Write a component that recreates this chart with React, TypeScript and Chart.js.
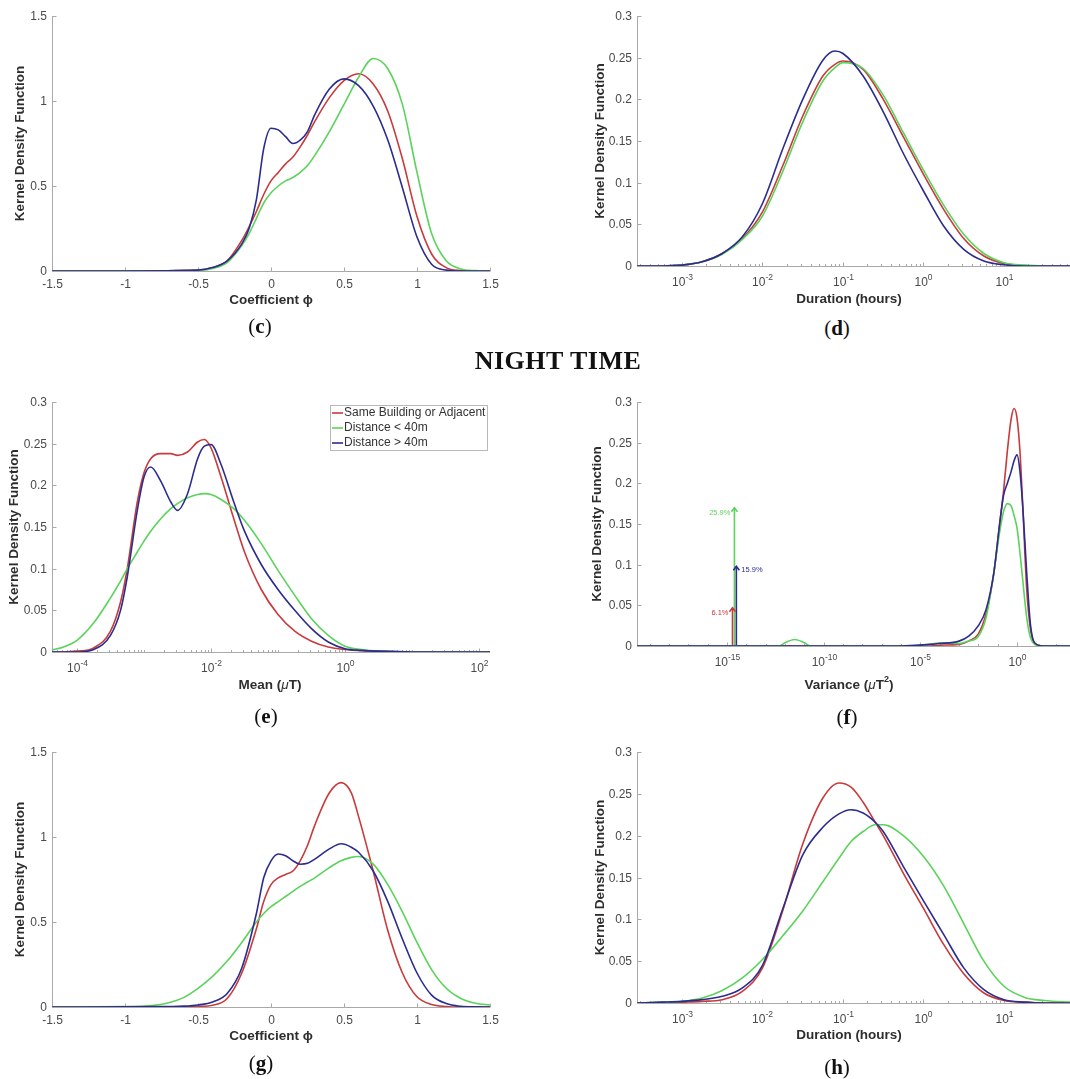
import React, { useEffect, useRef } from "react";
import { Chart, registerables } from "chart.js";

Chart.register(...registerables);

const RED = "#c83a3c";
const GREEN = "#5bd35b";
const BLUE = "#2c2c8f";
const SERIES = ["Same Building or Adjacent", "Distance < 40m", "Distance > 40m"];

// ---------- (c) Coefficient phi ----------
const cPhi = [-1.5, -1, -0.5, -0.4, -0.3, -0.2, -0.15, -0.1, -0.05, 0, 0.05, 0.1, 0.15, 0.2, 0.25, 0.3, 0.4, 0.5, 0.6, 0.7, 0.8, 0.9, 1.0, 1.1, 1.2, 1.3, 1.4, 1.5];
const cRed = [0, 0, 0.005, 0.02, 0.06, 0.18, 0.26, 0.35, 0.45, 0.53, 0.58, 0.63, 0.67, 0.73, 0.8, 0.88, 1.02, 1.12, 1.16, 1.1, 0.94, 0.66, 0.32, 0.1, 0.02, 0.003, 0, 0];
const cGreen = [0, 0, 0.004, 0.015, 0.05, 0.15, 0.22, 0.31, 0.4, 0.46, 0.5, 0.53, 0.55, 0.58, 0.62, 0.68, 0.82, 0.98, 1.14, 1.25, 1.19, 0.98, 0.58, 0.22, 0.06, 0.012, 0.002, 0];
const cBlue = [0, 0, 0.005, 0.02, 0.06, 0.16, 0.25, 0.42, 0.72, 0.84, 0.83, 0.79, 0.75, 0.77, 0.82, 0.92, 1.07, 1.13, 1.09, 0.97, 0.77, 0.49, 0.2, 0.04, 0.005, 0, 0, 0];

// ---------- (d) Duration (log10 hours) ----------
const dExp = [-3.56, -3.25, -3, -2.75, -2.5, -2.25, -2, -1.75, -1.5, -1.25, -1.1, -1, -0.75, -0.5, -0.25, 0, 0.25, 0.5, 0.75, 1, 1.25, 1.5, 1.85];
const dRed = [0, 0, 0.001, 0.005, 0.015, 0.033, 0.065, 0.12, 0.18, 0.228, 0.242, 0.246, 0.236, 0.2, 0.155, 0.11, 0.068, 0.033, 0.012, 0.003, 0.0005, 0, 0];
const dGreen = [0, 0, 0.001, 0.005, 0.014, 0.032, 0.06, 0.113, 0.173, 0.222, 0.238, 0.244, 0.237, 0.205, 0.16, 0.115, 0.073, 0.038, 0.015, 0.004, 0.001, 0, 0];
const dBlue = [0, 0, 0.001, 0.005, 0.015, 0.035, 0.075, 0.14, 0.2, 0.247, 0.258, 0.255, 0.228, 0.185, 0.135, 0.09, 0.048, 0.02, 0.006, 0.0015, 0, 0, 0];

// ---------- (e) Mean (log10 uT) ----------
const eExp = [-4.39, -4.2, -4, -3.75, -3.5, -3.35, -3.25, -3.1, -3, -2.9, -2.75, -2.6, -2.5, -2.35, -2.2, -2.1, -2, -1.85, -1.66, -1.5, -1.25, -1, -0.75, -0.5, -0.25, 0, 0.25, 0.5, 1, 2.17];
const eRed = [0, 0, 0.001, 0.005, 0.025, 0.06, 0.1, 0.18, 0.215, 0.232, 0.238, 0.238, 0.236, 0.24, 0.252, 0.255, 0.245, 0.21, 0.16, 0.12, 0.075, 0.045, 0.025, 0.013, 0.006, 0.003, 0.0015, 0.001, 0, 0];
const eGreen = [0.002, 0.006, 0.014, 0.035, 0.065, 0.085, 0.1, 0.12, 0.133, 0.145, 0.16, 0.172, 0.178, 0.185, 0.189, 0.19, 0.189, 0.183, 0.172, 0.158, 0.13, 0.098, 0.068, 0.04, 0.02, 0.007, 0.003, 0.001, 0, 0];
const eBlue = [0, 0, 0, 0.003, 0.02, 0.05, 0.09, 0.17, 0.21, 0.222, 0.205, 0.18, 0.17, 0.19, 0.232, 0.247, 0.249, 0.225, 0.18, 0.145, 0.105, 0.075, 0.05, 0.028, 0.012, 0.004, 0.002, 0.001, 0, 0];

// ---------- (f) Variance (log10 uT^2) ----------
const fExp = [-19.66, -16, -13, -12.3, -12, -11.5, -11, -10.7, -10, -6, -4.5, -4, -3, -2.5, -2, -1.6, -1.2, -0.9, -0.7, -0.5, -0.3, -0.15, 0, 0.15, 0.3, 0.5, 0.7, 1, 1.5, 2.74];
const fRed = [0, 0, 0, 0, 0, 0, 0, 0, 0, 0, 0, 0.001, 0.002, 0.006, 0.015, 0.04, 0.09, 0.15, 0.19, 0.24, 0.28, 0.292, 0.28, 0.24, 0.17, 0.07, 0.02, 0.002, 0, 0];
const fGreen = [0, 0, 0, 0, 0.004, 0.008, 0.004, 0, 0, 0, 0.002, 0.004, 0.003, 0.006, 0.012, 0.035, 0.09, 0.14, 0.165, 0.175, 0.172, 0.16, 0.145, 0.115, 0.08, 0.035, 0.01, 0.001, 0, 0];
const fBlue = [0, 0, 0, 0, 0, 0, 0, 0, 0, 0, 0.002, 0.003, 0.006, 0.012, 0.025, 0.045, 0.09, 0.15, 0.185, 0.2, 0.215, 0.228, 0.235, 0.215, 0.17, 0.09, 0.025, 0.002, 0, 0];
const arrowExp = [-14.72, -14.62, -14.52];
const arrowTop = [0.047, 0.17, 0.098];
const arrowText = ["6.1%", "25.9%", "15.9%"];
const arrowColor = [RED, GREEN, BLUE];

// ---------- (g) Coefficient phi ----------
const gPhi = [-1.5, -1, -0.8, -0.7, -0.6, -0.5, -0.4, -0.3, -0.2, -0.1, -0.05, 0, 0.05, 0.1, 0.15, 0.2, 0.25, 0.3, 0.4, 0.48, 0.55, 0.6, 0.7, 0.8, 0.9, 1.0, 1.1, 1.2, 1.3, 1.4, 1.5];
const gRed = [0, 0, 0, 0, 0.001, 0.003, 0.01, 0.05, 0.2, 0.46, 0.62, 0.72, 0.76, 0.78, 0.8, 0.86, 0.95, 1.07, 1.26, 1.32, 1.26, 1.12, 0.8, 0.45, 0.2, 0.06, 0.015, 0.003, 0, 0, 0];
const gGreen = [0, 0.002, 0.01, 0.025, 0.055, 0.11, 0.18, 0.27, 0.38, 0.5, 0.55, 0.59, 0.62, 0.65, 0.68, 0.71, 0.735, 0.76, 0.82, 0.86, 0.88, 0.885, 0.84, 0.72, 0.56, 0.38, 0.22, 0.11, 0.05, 0.022, 0.012];
const gBlue = [0, 0.001, 0.002, 0.003, 0.005, 0.012, 0.03, 0.08, 0.23, 0.55, 0.76, 0.86, 0.9, 0.89, 0.86, 0.84, 0.845, 0.87, 0.93, 0.96, 0.94, 0.91, 0.8, 0.62, 0.4, 0.2, 0.07, 0.02, 0.004, 0.001, 0];

// ---------- (h) Duration (log10 hours) ----------
const hExp = [-3.56, -3.25, -3, -2.75, -2.5, -2.25, -2, -1.75, -1.5, -1.25, -1.05, -0.9, -0.75, -0.6, -0.5, -0.25, 0, 0.25, 0.5, 0.75, 1, 1.25, 1.5, 1.85];
const hRed = [0, 0, 0.001, 0.002, 0.004, 0.014, 0.042, 0.11, 0.19, 0.245, 0.263, 0.258, 0.24, 0.216, 0.2, 0.155, 0.113, 0.07, 0.035, 0.012, 0.003, 0.001, 0, 0];
const hGreen = [0, 0.001, 0.002, 0.006, 0.015, 0.03, 0.052, 0.08, 0.11, 0.145, 0.173, 0.193, 0.205, 0.213, 0.213, 0.2, 0.175, 0.14, 0.095, 0.05, 0.02, 0.007, 0.003, 0.001];
const hBlue = [0, 0.001, 0.002, 0.004, 0.008, 0.018, 0.045, 0.112, 0.177, 0.21, 0.226, 0.231, 0.227, 0.216, 0.205, 0.163, 0.122, 0.082, 0.042, 0.016, 0.004, 0.001, 0, 0];

// ---------- ticks ----------
const phiXTicks = [-1.5, -1, -0.5, 0, 0.5, 1, 1.5];
const phiXLabels = ["-1.5", "-1", "-0.5", "0", "0.5", "1", "1.5"];
const phiYTicks = [0, 0.5, 1, 1.5];
const phiYLabels = ["0", "0.5", "1", "1.5"];
const kdYTicks = [0, 0.05, 0.1, 0.15, 0.2, 0.25, 0.3];
const kdYLabels = ["0", "0.05", "0.1", "0.15", "0.2", "0.25", "0.3"];
const durTicks = [-3, -2, -1, 0, 1];
const meanTicks = [-4, -2, 0, 2];
const varTicks = [-15, -10, -5, 0];

const SANS = '"Liberation Sans", Arial, Helvetica, sans-serif';
const SERIF = '"Liberation Serif", "Times New Roman", serif';
const AXIS_COLOR = "#a9a9a9";
const TICK_COLOR = "#4a4a4a";
const TITLE_COLOR = "#2e2e2e";

type Seg = { t: string; s?: "b" | "i" | "sup" };
type Series = { label: string; color: string; ys: number[]; order: number };

interface PanelDef {
  id: string;
  box: [number, number, number, number];
  area: [number, number, number, number];
  log: boolean;
  xRange: [number, number];
  yMax: number;
  xs: number[];
  series: Series[];
  xTicks: number[];
  xLabels: string[];
  xMinor: number[];
  yTicks: number[];
  yLabels: string[];
  xTitle: Seg[];
  xTitlePos: [number, number];
  yTitleX: number;
  legend?: [number, number, number, number];
  arrows?: boolean;
}

function logMinor(lo: number, hi: number, majors: number[], sub: boolean): number[] {
  const out: number[] = [];
  for (let d = Math.floor(lo); d <= Math.ceil(hi); d++) {
    const ks = sub ? [1, 2, 3, 4, 5, 6, 7, 8, 9] : [1];
    for (const k of ks) {
      const e = d + Math.log10(k);
      if (e > lo && e < hi && !(k === 1 && majors.includes(d))) out.push(e);
    }
  }
  return out;
}

const trio = (r: number[], g: number[], b: number[]): Series[] => [
  { label: SERIES[0], color: RED, ys: r, order: 2 },
  { label: SERIES[1], color: GREEN, ys: g, order: 1 },
  { label: SERIES[2], color: BLUE, ys: b, order: 0 },
];

const kdTitle: Seg[] = [{ t: "Coefficient \u03d5", s: "b" }];
const durTitle: Seg[] = [{ t: "Duration (hours)", s: "b" }];

const PANELS: PanelDef[] = [
  {
    id: "c", box: [0, 0, 535, 315], area: [52, 16, 490, 271], log: false, xRange: [-1.5, 1.5], yMax: 1.5,
    xs: cPhi, series: trio(cRed, cGreen, cBlue), xTicks: phiXTicks, xLabels: phiXLabels, xMinor: [],
    yTicks: phiYTicks, yLabels: phiYLabels, xTitle: kdTitle, xTitlePos: [271, 300], yTitleX: 20,
  },
  {
    id: "d", box: [535, 0, 535, 315], area: [102, 16, 535, 266], log: true, xRange: [-3.559, 1.82], yMax: 0.3,
    xs: dExp, series: trio(dRed, dGreen, dBlue), xTicks: durTicks, xLabels: durTicks.map(String),
    xMinor: logMinor(-3.559, 1.82, durTicks, true),
    yTicks: kdYTicks, yLabels: kdYLabels, xTitle: durTitle, xTitlePos: [314, 299], yTitleX: 65,
  },
  {
    id: "e", box: [0, 375, 535, 330], area: [52, 27, 490, 277], log: true, xRange: [-4.373, 2.164], yMax: 0.3,
    xs: eExp, series: trio(eRed, eGreen, eBlue), xTicks: meanTicks, xLabels: meanTicks.map(String),
    xMinor: logMinor(-4.373, 2.164, meanTicks, true),
    yTicks: kdYTicks, yLabels: kdYLabels,
    xTitle: [{ t: "Mean (", s: "b" }, { t: "\u03bc", s: "i" }, { t: "T)", s: "b" }], xTitlePos: [270, 310], yTitleX: 14,
    legend: [330, 30, 157, 45],
  },
  {
    id: "f", box: [535, 375, 535, 330], area: [102, 27, 535, 271], log: true, xRange: [-19.66, 2.74], yMax: 0.3,
    xs: fExp, series: trio(fRed, fGreen, fBlue), xTicks: varTicks, xLabels: varTicks.map(String),
    xMinor: logMinor(-19.66, 2.74, varTicks, false),
    yTicks: kdYTicks, yLabels: kdYLabels,
    xTitle: [{ t: "Variance (", s: "b" }, { t: "\u03bc", s: "i" }, { t: "T", s: "b" }, { t: "2", s: "sup" }, { t: ")", s: "b" }],
    xTitlePos: [314, 310], yTitleX: 62, arrows: true,
  },
  {
    id: "g", box: [0, 730, 535, 349], area: [52, 22, 490, 277], log: false, xRange: [-1.5, 1.5], yMax: 1.5,
    xs: gPhi, series: trio(gRed, gGreen, gBlue), xTicks: phiXTicks, xLabels: phiXLabels, xMinor: [],
    yTicks: phiYTicks, yLabels: phiYLabels, xTitle: kdTitle, xTitlePos: [271, 306], yTitleX: 20,
  },
  {
    id: "h", box: [535, 730, 535, 349], area: [102, 22, 535, 273], log: true, xRange: [-3.559, 1.82], yMax: 0.3,
    xs: hExp, series: trio(hRed, hGreen, hBlue), xTicks: durTicks, xLabels: durTicks.map(String),
    xMinor: logMinor(-3.559, 1.82, durTicks, true),
    yTicks: kdYTicks, yLabels: kdYLabels, xTitle: durTitle, xTitlePos: [314, 305], yTitleX: 65,
  },
];

const toX = (p: PanelDef, v: number) => (p.log ? Math.pow(10, v) : v);

function segFont(s?: string) {
  if (s === "i") return `italic 13.5px ${SANS}`;
  if (s === "sup") return `bold 9px ${SANS}`;
  return `bold 13.5px ${SANS}`;
}

function drawSegs(ctx: CanvasRenderingContext2D, segs: Seg[], cx: number, cy: number) {
  let total = 0;
  const widths = segs.map((sg) => {
    ctx.font = segFont(sg.s);
    const w = ctx.measureText(sg.t).width;
    total += w;
    return w;
  });
  let x = cx - total / 2;
  ctx.textAlign = "left";
  ctx.textBaseline = "middle";
  segs.forEach((sg, i) => {
    ctx.font = segFont(sg.s);
    ctx.fillText(sg.t, x, sg.s === "sup" ? cy - 5 : cy);
    x += widths[i];
  });
}

function decoPlugin(p: PanelDef) {
  return {
    id: "deco_" + p.id,
    beforeDatasetsDraw(chart: any) {
      const ctx: CanvasRenderingContext2D = chart.ctx;
      const { left, right, top, bottom } = chart.chartArea;
      const xs = chart.scales.x;
      const ys = chart.scales.y;
      ctx.save();
      ctx.strokeStyle = AXIS_COLOR;
      ctx.lineWidth = 1;
      const L = Math.round(left) + 0.5;
      const B = Math.round(bottom) + 0.5;
      ctx.beginPath();
      ctx.moveTo(L, top);
      ctx.lineTo(L, B);
      ctx.lineTo(right, B);
      ctx.stroke();
      // y ticks
      ctx.fillStyle = TICK_COLOR;
      ctx.font = `12px ${SANS}`;
      ctx.textAlign = "right";
      ctx.textBaseline = "middle";
      p.yTicks.forEach((v, i) => {
        const y = Math.round(ys.getPixelForValue(v)) + 0.5;
        ctx.beginPath();
        ctx.moveTo(L, y);
        ctx.lineTo(L + 4, y);
        ctx.stroke();
        ctx.fillText(p.yLabels[i], left - 5, y);
      });
      // x minor ticks
      p.xMinor.forEach((e) => {
        const x = Math.round(xs.getPixelForValue(toX(p, e))) + 0.5;
        ctx.beginPath();
        ctx.moveTo(x, B);
        ctx.lineTo(x, B - 2.5);
        ctx.stroke();
      });
      // x major ticks + labels
      p.xTicks.forEach((v, i) => {
        const x = Math.round(xs.getPixelForValue(toX(p, v))) + 0.5;
        ctx.beginPath();
        ctx.moveTo(x, B);
        ctx.lineTo(x, B - 4);
        ctx.stroke();
        if (!p.log) {
          ctx.font = `12px ${SANS}`;
          ctx.textAlign = "center";
          ctx.textBaseline = "middle";
          ctx.fillText(p.xLabels[i], x, bottom + 14);
        } else {
          ctx.font = `12px ${SANS}`;
          const wb = ctx.measureText("10").width;
          ctx.font = `8.5px ${SANS}`;
          const we = ctx.measureText(p.xLabels[i]).width;
          const x0 = x - (wb + we) / 2;
          ctx.textAlign = "left";
          ctx.textBaseline = "middle";
          ctx.font = `12px ${SANS}`;
          ctx.fillText("10", x0, bottom + 17);
          ctx.font = `8.5px ${SANS}`;
          ctx.fillText(p.xLabels[i], x0 + wb, bottom + 11.5);
        }
      });
      // titles
      ctx.fillStyle = TITLE_COLOR;
      drawSegs(ctx, p.xTitle, p.xTitlePos[0], p.xTitlePos[1]);
      ctx.save();
      ctx.translate(p.yTitleX, (top + bottom) / 2);
      ctx.rotate(-Math.PI / 2);
      ctx.font = `bold 13.5px ${SANS}`;
      ctx.textAlign = "center";
      ctx.textBaseline = "middle";
      ctx.fillText("Kernel Density Function", 0, 0);
      ctx.restore();
      ctx.restore();
    },
    afterDatasetsDraw(chart: any) {
      const ctx: CanvasRenderingContext2D = chart.ctx;
      const xs = chart.scales.x;
      const ys = chart.scales.y;
      if (p.arrows) {
        ctx.save();
        arrowExp.forEach((e, i) => {
          const x = xs.getPixelForValue(Math.pow(10, e));
          const y = ys.getPixelForValue(arrowTop[i]);
          ctx.strokeStyle = arrowColor[i];
          ctx.lineWidth = 1.6;
          ctx.beginPath();
          ctx.moveTo(x - 3, y + 4);
          ctx.lineTo(x, y);
          ctx.lineTo(x + 3, y + 4);
          ctx.stroke();
          ctx.fillStyle = arrowColor[i];
          ctx.font = `7.5px ${SANS}`;
          ctx.textBaseline = "middle";
          if (i === 2) {
            ctx.textAlign = "left";
            ctx.fillText(arrowText[i], x + 5, y + 4);
          } else {
            ctx.textAlign = "right";
            ctx.fillText(arrowText[i], x - 4, y + 5);
          }
        });
        ctx.restore();
      }
      if (p.legend) {
        const [lx, ly, lw, lh] = p.legend;
        ctx.save();
        ctx.fillStyle = "#ffffff";
        ctx.fillRect(lx, ly, lw, lh);
        ctx.strokeStyle = "#b8b8b8";
        ctx.lineWidth = 1;
        ctx.strokeRect(lx + 0.5, ly + 0.5, lw, lh);
        p.series.forEach((s, i) => {
          const y = ly + 8 + i * 15;
          ctx.strokeStyle = s.color;
          ctx.lineWidth = 1.6;
          ctx.beginPath();
          ctx.moveTo(lx + 2, y);
          ctx.lineTo(lx + 13, y);
          ctx.stroke();
          ctx.fillStyle = "#333333";
          ctx.font = `12px ${SANS}`;
          ctx.textAlign = "left";
          ctx.textBaseline = "middle";
          ctx.fillText(s.label, lx + 14, y);
        });
        ctx.restore();
      }
    },
  };
}

function buildConfig(p: PanelDef): any {
  const [W, H] = [p.box[2], p.box[3]];
  const [l, t, r, b] = p.area;
  const datasets: any[] = p.series.map((s) => ({
    label: s.label,
    data: p.xs.map((x, i) => ({ x: toX(p, x), y: s.ys[i] })),
    borderColor: s.color,
    backgroundColor: s.color,
    borderWidth: 1.6,
    pointRadius: 0,
    fill: false,
    cubicInterpolationMode: "monotone",
    order: s.order,
  }));
  if (p.arrows) {
    arrowExp.forEach((e, i) => {
      datasets.push({
        label: arrowText[i],
        data: [
          { x: Math.pow(10, e), y: 0 },
          { x: Math.pow(10, e), y: arrowTop[i] },
        ],
        borderColor: arrowColor[i],
        borderWidth: 1.6,
        pointRadius: 0,
        fill: false,
        order: 3 - i,
      });
    });
  }
  return {
    type: "line",
    data: { datasets },
    options: {
      animation: false,
      responsive: false,
      devicePixelRatio: 1,
      events: [],
      layout: { padding: { left: l, top: t, right: W - r, bottom: H - b } },
      scales: {
        x: {
          type: p.log ? "logarithmic" : "linear",
          display: false,
          min: toX(p, p.xRange[0]),
          max: toX(p, p.xRange[1]),
        },
        y: { type: "linear", display: false, min: 0, max: p.yMax },
      },
      plugins: { legend: { display: false }, tooltip: { enabled: false } },
    },
    plugins: [decoPlugin(p)],
  };
}

function PanelChart({ p }: { p: PanelDef }) {
  const ref = useRef<HTMLCanvasElement>(null);
  useEffect(() => {
    if (!ref.current) return;
    const chart = new Chart(ref.current, buildConfig(p));
    return () => chart.destroy();
  }, [p]);
  const [L, T, W, H] = p.box;
  return (
    <canvas
      ref={ref}
      width={W}
      height={H}
      style={{ position: "absolute", left: L, top: T, width: W, height: H }}
    />
  );
}

const CAPTIONS: [string, number, number][] = [
  ["c", 260, 326],
  ["d", 837, 328],
  ["e", 266, 716],
  ["f", 847, 717],
  ["g", 261, 1063],
  ["h", 837, 1067],
];

export default function App() {
  return (
    <div
      style={{
        position: "absolute",
        left: 0,
        top: 0,
        width: 1070,
        height: 1079,
        overflow: "hidden",
        background: "#ffffff",
      }}
    >
      {PANELS.map((p) => (
        <PanelChart key={p.id} p={p} />
      ))}
      {CAPTIONS.map(([c, x, y]) => (
        <div
          key={c}
          style={{
            position: "absolute",
            left: x,
            top: y,
            transform: "translate(-50%, -50%)",
            font: `21px ${SERIF}`,
            color: "#111",
            whiteSpace: "nowrap",
          }}
        >
          (<b>{c}</b>)
        </div>
      ))}
      <div
        style={{
          position: "absolute",
          left: 558,
          top: 361,
          transform: "translate(-50%, -50%)",
          font: `bold 26px ${SERIF}`,
          letterSpacing: "0.5px",
          color: "#111",
          whiteSpace: "nowrap",
        }}
      >
        NIGHT TIME
      </div>
    </div>
  );
}
